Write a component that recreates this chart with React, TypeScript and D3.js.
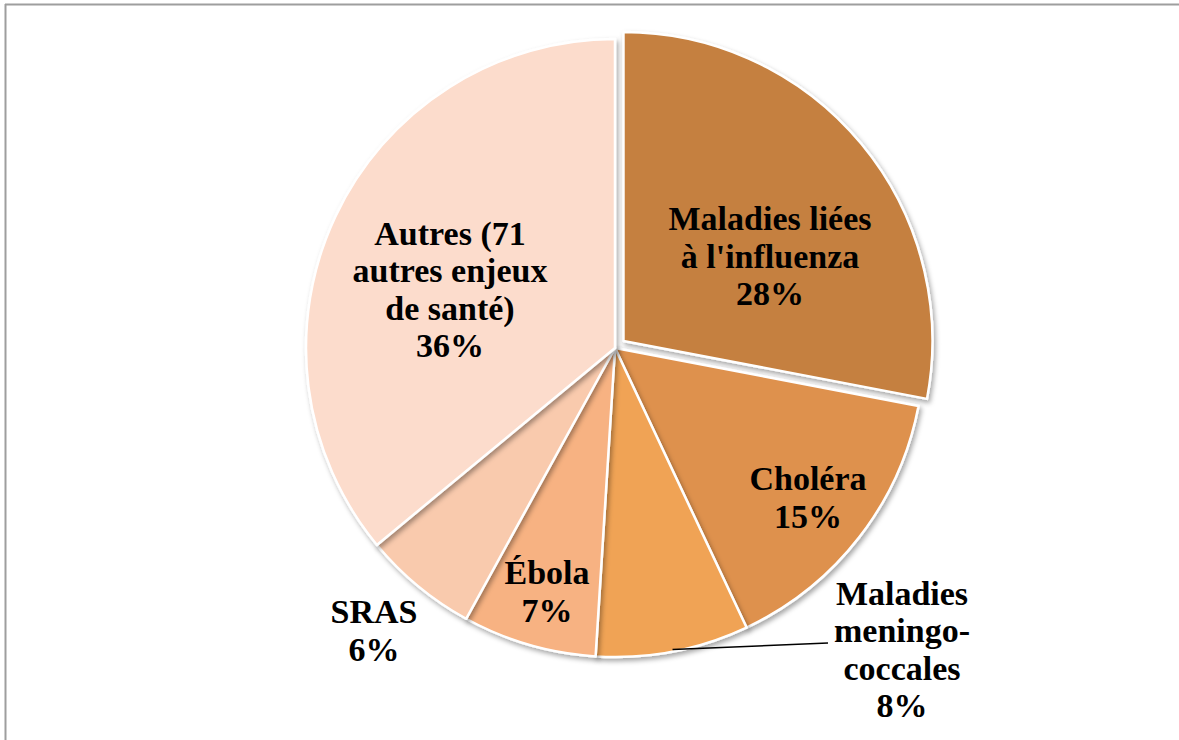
import React from "react";
import * as d3 from "d3";

const categories = [
  "Maladies liées à l'influenza",
  "Choléra",
  "Maladies meningo-coccales",
  "Ébola",
  "SRAS",
  "Autres (71 autres enjeux de santé)",
];
const values = [28, 15, 8, 7, 6, 36];
const colors = ["#C5803F", "#DE914E", "#F0A354", "#F7B282", "#F9CAAD", "#FCDCCC"];
const labelLines = [
  ["Maladies liées", "à l'influenza", "28%"],
  ["Choléra", "15%"],
  ["Maladies", "meningo-", "coccales", "8%"],
  ["Ébola", "7%"],
  ["SRAS", "6%"],
  ["Autres (71", "autres enjeux", "de santé)", "36%"],
];
const labelCenters: [number, number][] = [
  [770, 256],
  [808, 497],
  [902, 649],
  [547, 591],
  [374, 630],
  [450, 289],
];

export default function App() {
  const W = 1179, H = 740;
  const cx = 615, cy = 348, r = 309;
  const pie = d3.pie<number>().sort(null).value((d) => d)(values);
  const arc = d3.arc<d3.PieArcDatum<number>>().innerRadius(0).outerRadius(r);
  const explode = 11;
  const lineH = 37.5;

  // leader line for meningo slice
  const men = pie[2];
  const menMid = (men.startAngle + men.endAngle) / 2;
  const lx0 = Math.sin(menMid) * (r - 2) + cx;
  const ly0 = -Math.cos(menMid) * (r - 2) + cy;

  return (
    <svg width={W} height={H} style={{ position: "absolute", left: 0, top: 0, background: "#fff" }}>
      <defs>
        <filter id="sh" x="-20%" y="-20%" width="140%" height="140%">
          <feDropShadow dx="2" dy="3" stdDeviation="2.5" floodColor="#000" floodOpacity="0.35" />
        </filter>
      </defs>
      <line x1={5} y1={4.5} x2={W} y2={4.5} stroke="#9e9e9e" strokeWidth={2} />
      <line x1={5.5} y1={4} x2={5.5} y2={H} stroke="#9e9e9e" strokeWidth={2} />
      <g transform={`translate(${cx},${cy})`}>
        {pie.map((p, i) => {
          const mid = (p.startAngle + p.endAngle) / 2;
          const off = i === 0 ? explode : 0;
          const dx = Math.sin(mid) * off, dy = -Math.cos(mid) * off;
          return (
            <path
              key={categories[i]}
              d={arc(p) || ""}
              transform={`translate(${dx},${dy})`}
              fill={colors[i]}
              stroke="#fff"
              strokeWidth={2.5}
              strokeLinejoin="round"
              filter="url(#sh)"
            />
          );
        })}
      </g>
      <line x1={lx0} y1={ly0} x2={828} y2={643} stroke="#000" strokeWidth={1.5} />
      {labelLines.map((lines, i) => (
        <text
          key={"l" + i}
          textAnchor="middle"
          fontFamily="'Liberation Serif', serif"
          fontWeight="bold"
          fontSize={34}
          fill="#000"
        >
          {lines.map((t, j) => (
            <tspan
              key={j}
              x={labelCenters[i][0]}
              y={labelCenters[i][1] + (j - (lines.length - 1) / 2) * lineH}
              dy="0.35em"
            >
              {t}
            </tspan>
          ))}
        </text>
      ))}
    </svg>
  );
}
